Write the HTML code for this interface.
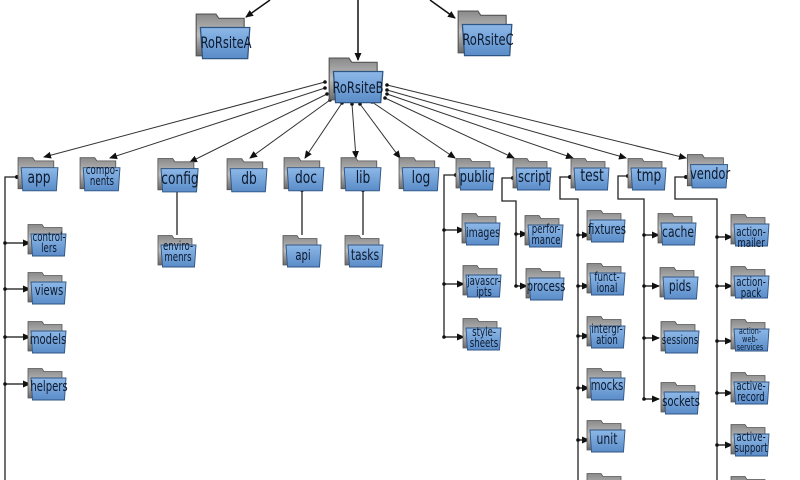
<!DOCTYPE html>
<html><head><meta charset="utf-8"><style>
html,body{margin:0;padding:0;background:#fff;width:800px;height:480px;overflow:hidden}
svg{display:block;overflow:hidden}
text{font-family:"DejaVu Sans Condensed","Liberation Sans Narrow","Liberation Sans",sans-serif;fill:#0d1a2e;text-anchor:middle;transform-box:fill-box;transform-origin:center;transform:scaleX(0.8)}
</style></head><body>
<svg width="800" height="480" viewBox="0 0 800 480" xmlns="http://www.w3.org/2000/svg">
<defs>
<linearGradient id="g" x1="0" y1="0" x2="0" y2="1"><stop offset="0" stop-color="#8a8a8a"/><stop offset="0.5" stop-color="#bdbdbd"/><stop offset="1" stop-color="#6a6a6a"/></linearGradient>
<linearGradient id="b" x1="0" y1="0" x2="0" y2="1"><stop offset="0" stop-color="#8db8e8"/><stop offset="1" stop-color="#5a8cc8"/></linearGradient>
<symbol id="f" viewBox="0 0 40 34">
<path d="M1 1.5 H15 L17 4.5 H35 V31 H1 Z" fill="url(#g)" stroke="#555" stroke-width="0.8"/>
<path d="M4 11 H39 L37.5 33 H5.5 Z" fill="url(#b)" stroke="#2f5583" stroke-width="0.9"/>
</symbol>
<marker id="a" markerWidth="8" markerHeight="8" refX="7" refY="4" orient="auto" markerUnits="userSpaceOnUse"><path d="M0 0.5 L8 4 L0 7.5 Z" fill="#111"/></marker>
<marker id="d" markerWidth="4" markerHeight="4" refX="2" refY="2" markerUnits="userSpaceOnUse"><circle cx="2" cy="2" r="1.8" fill="#111"/></marker>
</defs>

<g stroke="#111" stroke-width="1.5" fill="none">
<line x1="270" y1="0" x2="246" y2="17" marker-end="url(#a)"/>
<line x1="358" y1="0" x2="358" y2="60" marker-end="url(#a)"/>
<line x1="430" y1="0" x2="455" y2="18" marker-end="url(#a)"/>
</g>

<g stroke="#333" stroke-width="1" fill="none" marker-end="url(#a)" marker-start="url(#d)">
<line x1="325" y1="82" x2="44" y2="157"/>
<line x1="325" y1="88" x2="110" y2="158"/>
<line x1="327" y1="94" x2="190" y2="162"/>
<line x1="330" y1="100" x2="250" y2="158"/>
<line x1="342" y1="103" x2="305" y2="158"/>
<line x1="352" y1="104" x2="356" y2="158"/>
<line x1="360" y1="104" x2="400" y2="158"/>
<line x1="372" y1="102" x2="455" y2="158"/>
<line x1="385" y1="98" x2="514" y2="158"/>
<line x1="387" y1="94" x2="573" y2="158"/>
<line x1="387" y1="90" x2="626" y2="158"/>
<line x1="387" y1="85" x2="686" y2="158"/>
</g>

<g stroke="#222" stroke-width="1.3" fill="none">
<polyline points="17,177 5,177 5,480"/>
<line x1="177" y1="190" x2="177" y2="235"/>
<line x1="302" y1="190" x2="302" y2="235"/>
<line x1="363" y1="190" x2="363" y2="235"/>
<polyline points="456,175 444,175 444,337"/>
<polyline points="513,178 502,178 502,201 516,201 516,287"/>
<polyline points="570,177 560,177 560,199 578,199 578,480"/>
<polyline points="628,176 618,176 618,199 644,199 644,400"/>
<polyline points="686,177 675,177 675,199 717,199 717,480"/>
</g>
<g fill="#111"><circle cx="17" cy="177" r="2"/><circle cx="177" cy="190" r="2"/><circle cx="302" cy="190" r="2"/><circle cx="363" cy="190" r="2"/><circle cx="456" cy="175" r="2"/><circle cx="513" cy="178" r="2"/><circle cx="570" cy="177" r="2"/><circle cx="628" cy="176" r="2"/><circle cx="686" cy="177" r="2"/></g>
<g stroke="#111" stroke-width="1.3" marker-end="url(#a)" marker-start="url(#d)">
<line x1="5" y1="243" x2="30" y2="243"/><line x1="5" y1="289" x2="30" y2="289"/><line x1="5" y1="337" x2="30" y2="337"/><line x1="5" y1="384" x2="30" y2="384"/>
<line x1="444" y1="230" x2="464" y2="230"/><line x1="444" y1="284" x2="464" y2="284"/><line x1="444" y1="337" x2="464" y2="337"/>
<line x1="516" y1="234" x2="527" y2="234"/><line x1="516" y1="286" x2="527" y2="286"/>
<line x1="578" y1="235" x2="589" y2="235"/><line x1="578" y1="286" x2="589" y2="286"/><line x1="578" y1="336" x2="589" y2="336"/><line x1="578" y1="388" x2="589" y2="388"/><line x1="578" y1="440" x2="589" y2="440"/>
<line x1="644" y1="235" x2="659" y2="235"/><line x1="644" y1="286" x2="659" y2="286"/><line x1="644" y1="338" x2="659" y2="338"/><line x1="644" y1="399" x2="659" y2="399"/>
<line x1="717" y1="237" x2="732" y2="237"/><line x1="717" y1="286" x2="732" y2="286"/><line x1="717" y1="341" x2="732" y2="341"/><line x1="717" y1="393" x2="732" y2="393"/><line x1="717" y1="445" x2="732" y2="445"/>
</g>

<use href="#f" x="194" y="12" width="58" height="48"/>
<use href="#f" x="454" y="9" width="62" height="48"/>
<use href="#f" x="324" y="56" width="64" height="48"/>
<g>
<use href="#f" x="17" y="156" width="42" height="36"/>
<use href="#f" x="79" y="156" width="42" height="36"/>
<use href="#f" x="155" y="157" width="46" height="36"/>
<use href="#f" x="226" y="157" width="42" height="36"/>
<use href="#f" x="283" y="156" width="42" height="36"/>
<use href="#f" x="340" y="156" width="42" height="36"/>
<use href="#f" x="398" y="156" width="42" height="36"/>
<use href="#f" x="455" y="156" width="40" height="36"/>
<use href="#f" x="512" y="156" width="40" height="36"/>
<use href="#f" x="570" y="156" width="40" height="36"/>
<use href="#f" x="627" y="156" width="40" height="36"/>
<use href="#f" x="685" y="153" width="45" height="36"/>
<use href="#f" x="27" y="222" width="40" height="36"/>
<use href="#f" x="27" y="270" width="40" height="36"/>
<use href="#f" x="27" y="319" width="40" height="36"/>
<use href="#f" x="27" y="366" width="40" height="36"/>
<use href="#f" x="157" y="234" width="40" height="34"/>
<use href="#f" x="282" y="234" width="40" height="34"/>
<use href="#f" x="344" y="234" width="40" height="34"/>
<use href="#f" x="461" y="212" width="40" height="34"/>
<use href="#f" x="462" y="264" width="40" height="34"/>
<use href="#f" x="462" y="317" width="40" height="34"/>
<use href="#f" x="524" y="214" width="40" height="34"/>
<use href="#f" x="525" y="267" width="40" height="34"/>
<use href="#f" x="586" y="209" width="40" height="34"/>
<use href="#f" x="586" y="262" width="40" height="34"/>
<use href="#f" x="586" y="315" width="40" height="34"/>
<use href="#f" x="586" y="367" width="40" height="34"/>
<use href="#f" x="586" y="419" width="40" height="34"/>
<use href="#f" x="586" y="472" width="40" height="34"/>
<use href="#f" x="657" y="212" width="40" height="34"/>
<use href="#f" x="659" y="266" width="40" height="34"/>
<use href="#f" x="660" y="320" width="40" height="34"/>
<use href="#f" x="660" y="381" width="40" height="34"/>
<use href="#f" x="730" y="213" width="40" height="34"/>
<use href="#f" x="730" y="265" width="40" height="34"/>
<use href="#f" x="730" y="318" width="40" height="34"/>
<use href="#f" x="730" y="371" width="40" height="34"/>
<use href="#f" x="730" y="423" width="40" height="34"/>
<use href="#f" x="730" y="475" width="40" height="34"/>
</g>

<g>
<text x="226" y="48" font-size="16">RoRsiteA</text>
<text x="488" y="45" font-size="16">RoRsiteC</text>
<text x="358" y="93" font-size="16">RoRsiteB</text>
<text x="39" y="183" font-size="17">app</text>
<text x="102" y="174" font-size="12">compo-</text><text x="102" y="185" font-size="12">nents</text>
<text x="180" y="184" font-size="17">config</text>
<text x="249" y="184" font-size="17">db</text>
<text x="306" y="183" font-size="17">doc</text>
<text x="363" y="183" font-size="17">lib</text>
<text x="421" y="183" font-size="17">log</text>
<text x="477" y="182" font-size="16">public</text>
<text x="534" y="182" font-size="16">script</text>
<text x="592" y="181" font-size="17">test</text>
<text x="649" y="181" font-size="17">tmp</text>
<text x="710" y="179" font-size="16">vendor</text>
<text x="49" y="241" font-size="12">control-</text><text x="49" y="252" font-size="12">lers</text>
<text x="49" y="295" font-size="14">views</text>
<text x="48" y="344" font-size="14">models</text>
<text x="49" y="391" font-size="14">helpers</text>
<text x="178" y="250" font-size="12">enviro-</text><text x="178" y="261" font-size="12">menrs</text>
<text x="303" y="260" font-size="14">api</text>
<text x="365" y="260" font-size="15">tasks</text>
<text x="483" y="237" font-size="13">images</text>
<text x="484" y="285" font-size="12">javascr-</text><text x="484" y="296" font-size="12">ipts</text>
<text x="484" y="336" font-size="12">style-</text><text x="484" y="347" font-size="12">sheets</text>
<text x="546" y="233" font-size="12">perfor-</text><text x="546" y="244" font-size="12">mance</text>
<text x="546" y="291" font-size="14">process</text>
<text x="607" y="234" font-size="14">fixtures</text>
<text x="607" y="281" font-size="12">funct-</text><text x="607" y="292" font-size="12">ional</text>
<text x="607" y="333" font-size="12">intergr-</text><text x="607" y="344" font-size="12">ation</text>
<text x="607" y="390" font-size="14">mocks</text>
<text x="607" y="444" font-size="15">unit</text>
<text x="678" y="237" font-size="15">cache</text>
<text x="680" y="291" font-size="15">pids</text>
<text x="680" y="344" font-size="12">sessions</text>
<text x="681" y="406" font-size="14">sockets</text>
<text x="751" y="236" font-size="12">action-</text><text x="751" y="247" font-size="12">mailer</text>
<text x="751" y="286" font-size="12">action-</text><text x="751" y="297" font-size="12">pack</text>
<text x="750" y="334" font-size="9">action-</text><text x="750" y="342" font-size="9">web-</text><text x="750" y="350" font-size="9">services</text>
<text x="751" y="390" font-size="12">active-</text><text x="751" y="401" font-size="12">record</text>
<text x="751" y="441" font-size="12">active-</text><text x="751" y="452" font-size="12">support</text>
</g>
</svg>
</body></html>
